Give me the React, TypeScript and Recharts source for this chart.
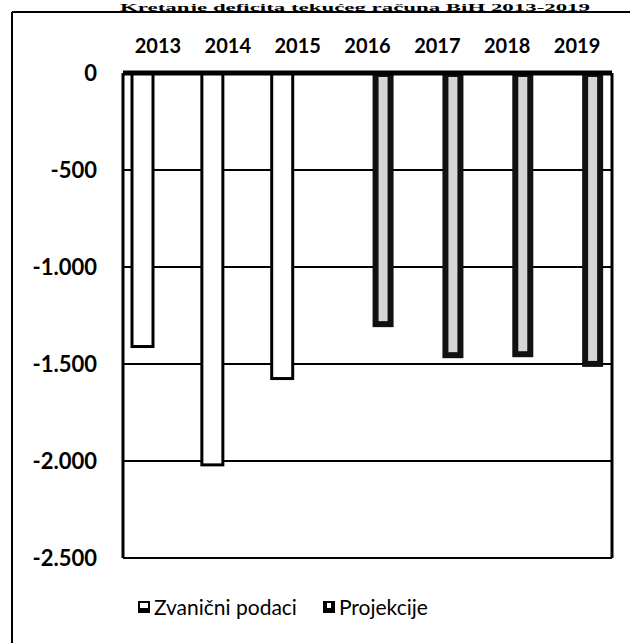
import React from 'react';
import { BarChart, Bar, XAxis, YAxis, CartesianGrid, Legend } from 'recharts';

const years = ['2013', '2014', '2015', '2016', '2017', '2018', '2019'];
const zvanicni = [-1410, -2020, -1575, null, null, null, null];
const projekcije = [null, null, null, -1310, -1470, -1465, -1515];
const yTicks = [0, -500, -1000, -1500, -2000, -2500];
const seriesNames = ['Zvanični podaci', 'Projekcije'];
const title = 'Kretanje deficita tekućeg računa BiH 2013-2019';

const data = years.map((y, i) => ({ year: y, zv: zvanicni[i], pr: projekcije[i] }));

const fmt = (v: number) => {
  if (v === 0) return '0';
  const s = Math.abs(v).toString();
  const withDots = s.replace(/\B(?=(\d{3})+(?!\d))/g, '.');
  return (v < 0 ? '-' : '') + withDots;
};

const FONT = 'Lato, "Open Sans", sans-serif';

const ZvShape = (props: any) => {
  const { x, y, width, height } = props;
  if (height == null || width == null) return null;
  const top = Math.min(y, y + height);
  const h = Math.abs(height);
  return <rect x={x} y={top} width={width} height={h} fill="#fff" stroke="#000" strokeWidth={3} />;
};

const PrShape = (props: any) => {
  const { x, y, width, height } = props;
  if (height == null || width == null) return null;
  const top = Math.min(y, y + height);
  const h = Math.abs(height);
  const inset = 6;
  return (
    <g>
      <rect x={x} y={top} width={width} height={h} fill="#111" />
      {h > inset * 2 && (
        <rect x={x + inset} y={top + 4} width={Math.max(width - inset * 2, 1)} height={h - inset - 4} fill="#d6d6d6" />
      )}
    </g>
  );
};

const LegendContent = () => (
  <div style={{ display: 'flex', alignItems: 'center', fontFamily: FONT, fontSize: 21, color: '#000' }}>
    <svg width={12} height={12} style={{ marginRight: 4 }}>
      <rect x={1} y={1} width={10} height={10} fill="#fff" stroke="#000" strokeWidth={2} />
      <rect x={1} y={7} width={10} height={4} fill="#000" />
    </svg>
    <span>{seriesNames[0]}</span>
    <svg width={12} height={12} style={{ marginLeft: 26, marginRight: 4 }}>
      <rect x={0} y={0} width={12} height={12} fill="#000" />
      <rect x={4} y={2} width={4} height={5} fill="#fff" />
    </svg>
    <span>{seriesNames[1]}</span>
  </div>
);

export default function App() {
  return (
    <div style={{ position: 'absolute', left: 0, top: 0, width: 630, height: 643, background: '#fff' }}>
      <BarChart
        width={630}
        height={643}
        data={data}
        margin={{ top: 33, right: 0, left: 0, bottom: 85 }}
        barSize={21}
        barGap={10}
      >
        <CartesianGrid yAxisId="l" vertical={false} stroke="#000" strokeWidth={2} />
        <XAxis
          dataKey="year"
          orientation="top"
          height={40}
          axisLine={{ stroke: '#000', strokeWidth: 5 }}
          tickLine={false}
          tickSize={0}
          tickMargin={20}
          tick={{ fill: '#000', fontFamily: FONT, fontSize: 20, fontWeight: 700 }}
        />
        <YAxis
          yAxisId="l"
          width={123}
          domain={[-2500, 0]}
          ticks={yTicks}
          interval={0}
          tickFormatter={fmt}
          axisLine={{ stroke: '#000', strokeWidth: 3 }}
          tickLine={false}
          tickSize={0}
          tickMargin={26}
          tick={{ fill: '#000', fontFamily: FONT, fontSize: 22, fontWeight: 700 }}
        />
        <YAxis
          yAxisId="r"
          orientation="right"
          width={18}
          domain={[-2500, 0]}
          tick={false}
          tickLine={false}
          axisLine={{ stroke: '#000', strokeWidth: 3 }}
        />
        <Bar yAxisId="l" dataKey="zv" name={seriesNames[0]} fill="#fff" stroke="#000" shape={ZvShape} isAnimationActive={false} />
        <Bar yAxisId="l" dataKey="pr" name={seriesNames[1]} fill="#111" shape={PrShape} isAnimationActive={false} />
        <Legend
          verticalAlign="middle"
          align="center"
          layout="horizontal"
          content={LegendContent}
          wrapperStyle={{ top: 594, left: 138, width: 'auto' }}
        />
      </BarChart>
      <svg width={630} height={643} style={{ position: 'absolute', left: 0, top: 0, pointerEvents: 'none' }}>
        <text x={355} y={11} textAnchor="middle" textLength={470} lengthAdjust="spacingAndGlyphs" fontFamily='"Liberation Serif", serif' fontWeight={700} fontSize={10} fill="#000">
          {title}
        </text>
        <line x1={12} y1={12} x2={630} y2={12} stroke="#000" strokeWidth={2} />
        <line x1={12} y1={12} x2={12} y2={643} stroke="#000" strokeWidth={2} />
      </svg>
    </div>
  );
}
